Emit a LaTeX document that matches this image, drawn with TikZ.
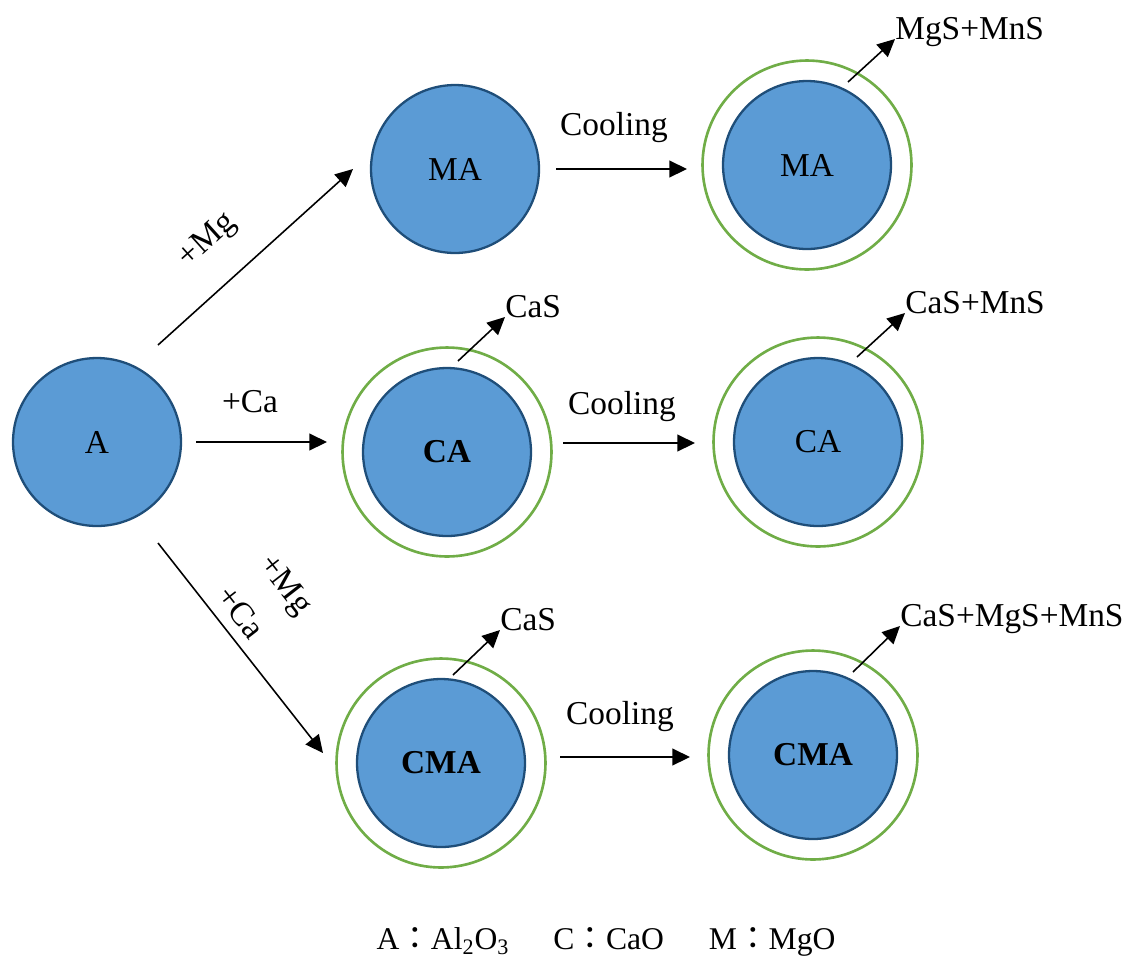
\documentclass[tikz,border=0pt]{standalone}
\usepackage{fontspec}
\setmainfont{Liberation Serif}
\newfontfamily\cjk{Noto Sans CJK TC}
\usetikzlibrary{arrows.meta}
\definecolor{corefill}{HTML}{5B9BD5}
\definecolor{coreline}{HTML}{1F4E79}
\definecolor{shellline}{HTML}{70AD47}

\begin{document}
\begin{tikzpicture}[x=0.02cm, y=-0.02cm, font=\fontsize{19}{23}\selectfont,
  core/.style={circle, draw=coreline, line width=1.3pt, fill=corefill, minimum size=3.36cm, inner sep=0pt},
  shell/.style={circle, draw=shellline, line width=1.5pt, minimum size=4.18cm, inner sep=0pt},
  arr/.style={-{Triangle[length=10pt,width=9.5pt]}, line width=0.9pt},
  prod/.style={anchor=base west, inner sep=0pt},
  tilted/.style={rotate=#1, inner sep=0pt}]
\useasboundingbox (0,0) rectangle (1126,958);

% inclusions
\node[core] (A) at (97,442) {A};
\node[core] (MA) at (455,169) {MA};
\node[shell] (MAcs) at (807,165) {};
\node[core] (MAc) at (807,165) {MA};
\node[shell] (CAs) at (447,452) {};
\node[core] (CA) at (447,452) {\textbf{CA}};
\node[shell] (CAcs) at (818,442) {};
\node[core] (CAc) at (818,442) {CA};
\node[shell] (CMAs) at (441,763) {};
\node[core] (CMA) at (441,763) {\textbf{CMA}};
\node[shell] (CMAcs) at (813,755) {};
\node[core] (CMAc) at (813,755) {\textbf{CMA}};

% additions
\draw[arr] ([shift={(61,-97)}]A.center) -- ([shift={(-102,0)}]MA.center);
\node[tilted=42] (addMg) at (208,241) {+Mg};
\draw[arr] ([shift={(99,0)}]A.center) -- ([shift={(-120,-10)}]CA.center);
\node (addCa) at (250,402) {+Ca};
\draw[arr] ([shift={(61,101)}]A.center) -- ([shift={(-118,-10)}]CMA.center);
\node[tilted=-52] (addMg2) at (284,586) {+Mg};
\node[tilted=-52] (addCa2) at (241,612) {+Ca};

% cooling
\draw[arr] ([shift={(101,0)}]MA.center) -- ([shift={(-120,4)}]MAc.center);
\node (coolMA) at (614,128) {Cooling};
\draw[arr] ([shift={(116,-9)}]CA.center) -- ([shift={(-123,1)}]CAc.center);
\node (coolCA) at (622,407) {Cooling};
\draw[arr] ([shift={(119,-6)}]CMA.center) -- ([shift={(-123,2)}]CMAc.center);
\node (coolCMA) at (620,717) {Cooling};

% sulfides
\node[prod] (pMAc) at (895,39) {MgS+MnS};
\draw[arr] ([shift={(41,-83)}]MAc.center) -- (pMAc.base west);
\node[prod] (pCA) at (505,317) {CaS};
\draw[arr] ([shift={(11,-91)}]CA.center) -- (pCA.base west);
\node[prod] (pCAc) at (905,313) {CaS+MnS};
\draw[arr] ([shift={(39,-85)}]CAc.center) -- (pCAc.base west);
\node[prod] (pCMA) at (500,630) {CaS};
\draw[arr] ([shift={(12,-88)}]CMA.center) -- (pCMA.base west);
\node[prod] (pCMAc) at (900,626) {CaS+MgS+MnS};
\draw[arr] ([shift={(40,-83)}]CMAc.center) -- (pCMAc.base west);

% legend
\node[font=\fontsize{18}{22}\selectfont] (key) at (606,942)
  {A{\cjk ：}Al\textsubscript{2}O\textsubscript{3}\hspace{0.88cm}C{\cjk ：}CaO\hspace{0.9cm}M{\cjk ：}MgO};
\end{tikzpicture}
\end{document}
